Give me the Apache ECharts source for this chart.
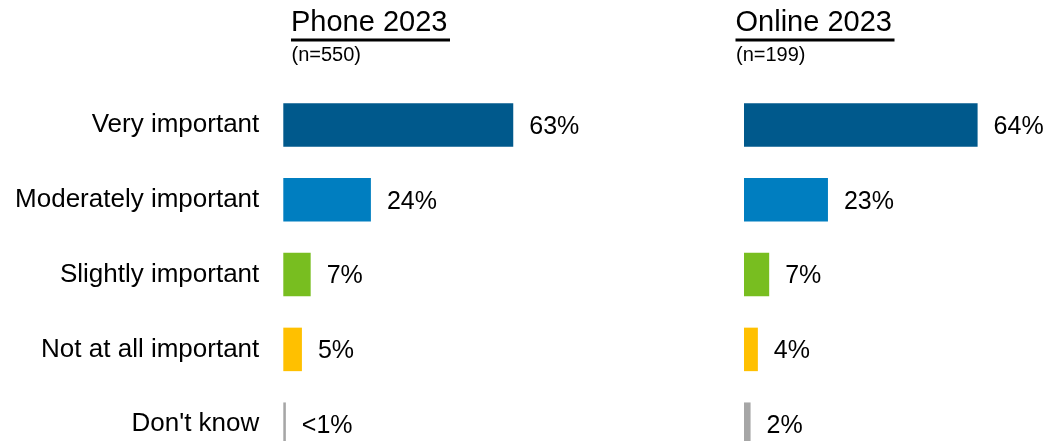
<!DOCTYPE html>
<html>
<head>
<meta charset="utf-8">
<script src="https://cdn.jsdelivr.net/npm/echarts@6/dist/echarts.min.js"></script>
<style>
html,body{margin:0;padding:0;background:#fff;}
#chart{width:1049px;height:441px;}
</style>
</head>
<body>
<div id="chart"></div>
<script>
const categories = ['Very important', 'Moderately important', 'Slightly important', 'Not at all important', "Don't know"];
const phoneValues = [63, 24, 7.5, 5.1, 0.7];
const phoneLabels = ['63%', '24%', '7%', '5%', '<1%'];
const onlineValues = [64, 23, 6.9, 3.8, 1.8];
const onlineLabels = ['64%', '23%', '7%', '4%', '2%'];
const panelTitles = ['Phone 2023', 'Online 2023'];
const panelSubtitles = ['(n=550)', '(n=199)'];
const barColors = ['#00598C', '#007EC0', '#78BE20', '#FFC000', '#A6A6A6'];

const FONT = '"Liberation Sans", Arial, sans-serif';
const chart = echarts.init(document.getElementById('chart'), null, {renderer: 'canvas'});

function barSeries(idx, values, labels) {
  return {
    type: 'bar',
    xAxisIndex: idx,
    yAxisIndex: idx,
    data: values,
    barWidth: 43.5,
    animation: false,
    itemStyle: {
      color: p => barColors[p.dataIndex]
    },
    label: {
      show: true,
      position: 'right',
      distance: 16,
      offset: [0, 2],
      formatter: p => labels[p.dataIndex],
      fontFamily: FONT,
      fontSize: 25,
      color: '#000'
    }
  };
}

const gridCommon = {top: 87.6, height: 374, width: 255.5, containLabel: false, outerBoundsMode: 'none'};
const titleX = [291, 735.5];

chart.setOption({
  backgroundColor: '#fff',
  animation: false,
  grid: [
    Object.assign({left: 283.3}, gridCommon),
    Object.assign({left: 744}, gridCommon)
  ],
  xAxis: [0, 1].map(i => ({
    type: 'value', gridIndex: i, min: 0, max: 70, show: false, splitLine: {show: false}
  })),
  yAxis: [0, 1].map(i => ({
    type: 'category', gridIndex: i, data: categories, inverse: true,
    axisLine: {show: false}, axisTick: {show: false},
    axisLabel: {
      show: i === 0, margin: 24, fontFamily: FONT, fontSize: 26, color: '#000',
      padding: [3, 0, 0, 0]
    }
  })),
  series: [
    barSeries(0, phoneValues, phoneLabels),
    barSeries(1, onlineValues, onlineLabels)
  ],
  graphic: [0, 1].flatMap(i => [
    {
      type: 'text', x: titleX[i], y: 23,
      style: {text: panelTitles[i], fontFamily: FONT, fontSize: 29, fill: '#000', verticalAlign: 'middle'}
    },
    {
      type: 'rect', shape: {x: titleX[i], y: 38.5, width: 159, height: 3},
      style: {fill: '#000'}
    },
    {
      type: 'text', x: titleX[i] + 0.5, y: 55,
      style: {text: panelSubtitles[i], fontFamily: FONT, fontSize: 20, fill: '#000', verticalAlign: 'middle'}
    }
  ])
});
</script>
</body>
</html>
